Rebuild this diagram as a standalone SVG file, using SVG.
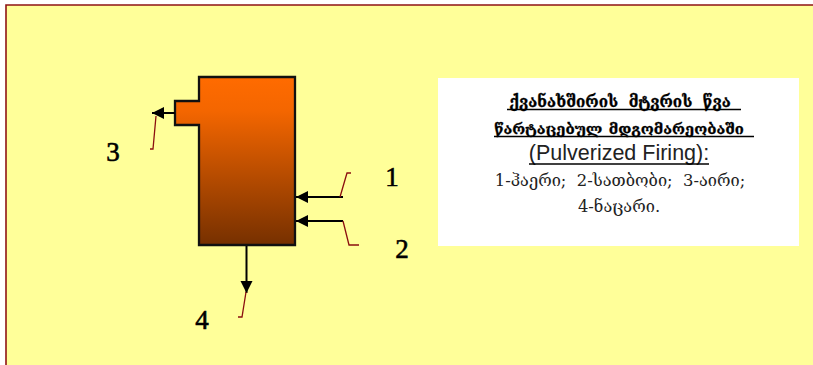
<svg xmlns="http://www.w3.org/2000/svg" width="813" height="365" viewBox="0 0 813 365">
<style>
.geo{font-family:"DejaVu Serif","DejaVu Sans","Noto Sans",serif;text-anchor:middle;fill:#222}
.h{font-weight:bold;fill:#000;stroke:#000;stroke-width:.3}
.b{font-size:16.400px;font-weight:normal}
.num{font-family:"Liberation Serif",serif;font-size:27px;fill:#000;stroke:#000;stroke-width:.6;text-anchor:middle}
.ar{stroke:#000;stroke-width:2;fill:none;marker-end:url(#a)}
.ld{stroke:#8b0f0f;stroke-width:1.300;fill:none}
.ul{stroke:#000;stroke-width:1.600}
</style>
<defs>
<linearGradient id="g" x1="0" y1="0" x2="0" y2="1"><stop offset="0" stop-color="#ff6b00"/><stop offset=".2" stop-color="#f46600"/><stop offset="1" stop-color="#763000"/></linearGradient>
<marker id="a" markerUnits="userSpaceOnUse" markerWidth="13" markerHeight="13" refX="12" refY="6" orient="auto"><path d="M0 0L12 6L0 12Z" fill="#000"/></marker>
</defs>
<rect width="813" height="365" fill="#fff"/>
<rect x="6" y="5" width="807" height="360" fill="#ffff99"/>
<path d="M6 365V5H813" fill="none" stroke="#8e1414" stroke-width="1.600"/>
<g id="furnace"><path d="M199 77H295V245H199V125H175V101H199Z" fill="url(#g)" stroke="#111" stroke-width="2.300"/></g>
<g id="connectors">
<path class="ar" d="M175 113H152"/>
<path class="ar" d="M343 197H296"/>
<path class="ar" d="M343 221H296"/>
<path class="ar" d="M246.500 246V293"/>
<path class="ld" d="M156 116L153 149H150"/>
<path class="ld" d="M340 197L347 173H351"/>
<path class="ld" d="M343 221L349 245H359"/>
<path class="ld" d="M246 292L242 317H238"/>
</g>
<g id="label-1"><text class="num" x="392" y="186">1</text></g>
<g id="label-2"><text class="num" x="402" y="258">2</text></g>
<g id="label-3"><text class="num" x="113" y="161">3</text></g>
<g id="label-4"><text class="num" x="202" y="329">4</text></g>
<g id="caption">
<rect x="438" y="78" width="361" height="168" fill="#fff"/>
<text class="geo h" x="620" y="107" font-size="15.200" xml:space="preserve">ქვანახშირის  მტვრის  წვა</text>
<line class="ul" x1="507" y1="109.500" x2="741" y2="109.500"/>
<text class="geo h" x="619" y="134" font-size="14.800" word-spacing="-2" xml:space="preserve">წარტაცებულ  მდგომარეობაში</text>
<line class="ul" x1="494" y1="136.500" x2="754" y2="136.500"/>
<text x="619" y="160" text-anchor="middle" font-family="'Liberation Sans',sans-serif" font-size="21.500" fill="#222">(Pulverized Firing):</text>
<line class="ul" x1="529" y1="164" x2="709" y2="164"/>
<text class="geo b" x="620" y="186" xml:space="preserve">1-ჰაერი;  2-სათბობი;  3-აირი;</text>
<text class="geo b" x="619" y="212">4-ნაცარი.</text>
</g>
</svg>
